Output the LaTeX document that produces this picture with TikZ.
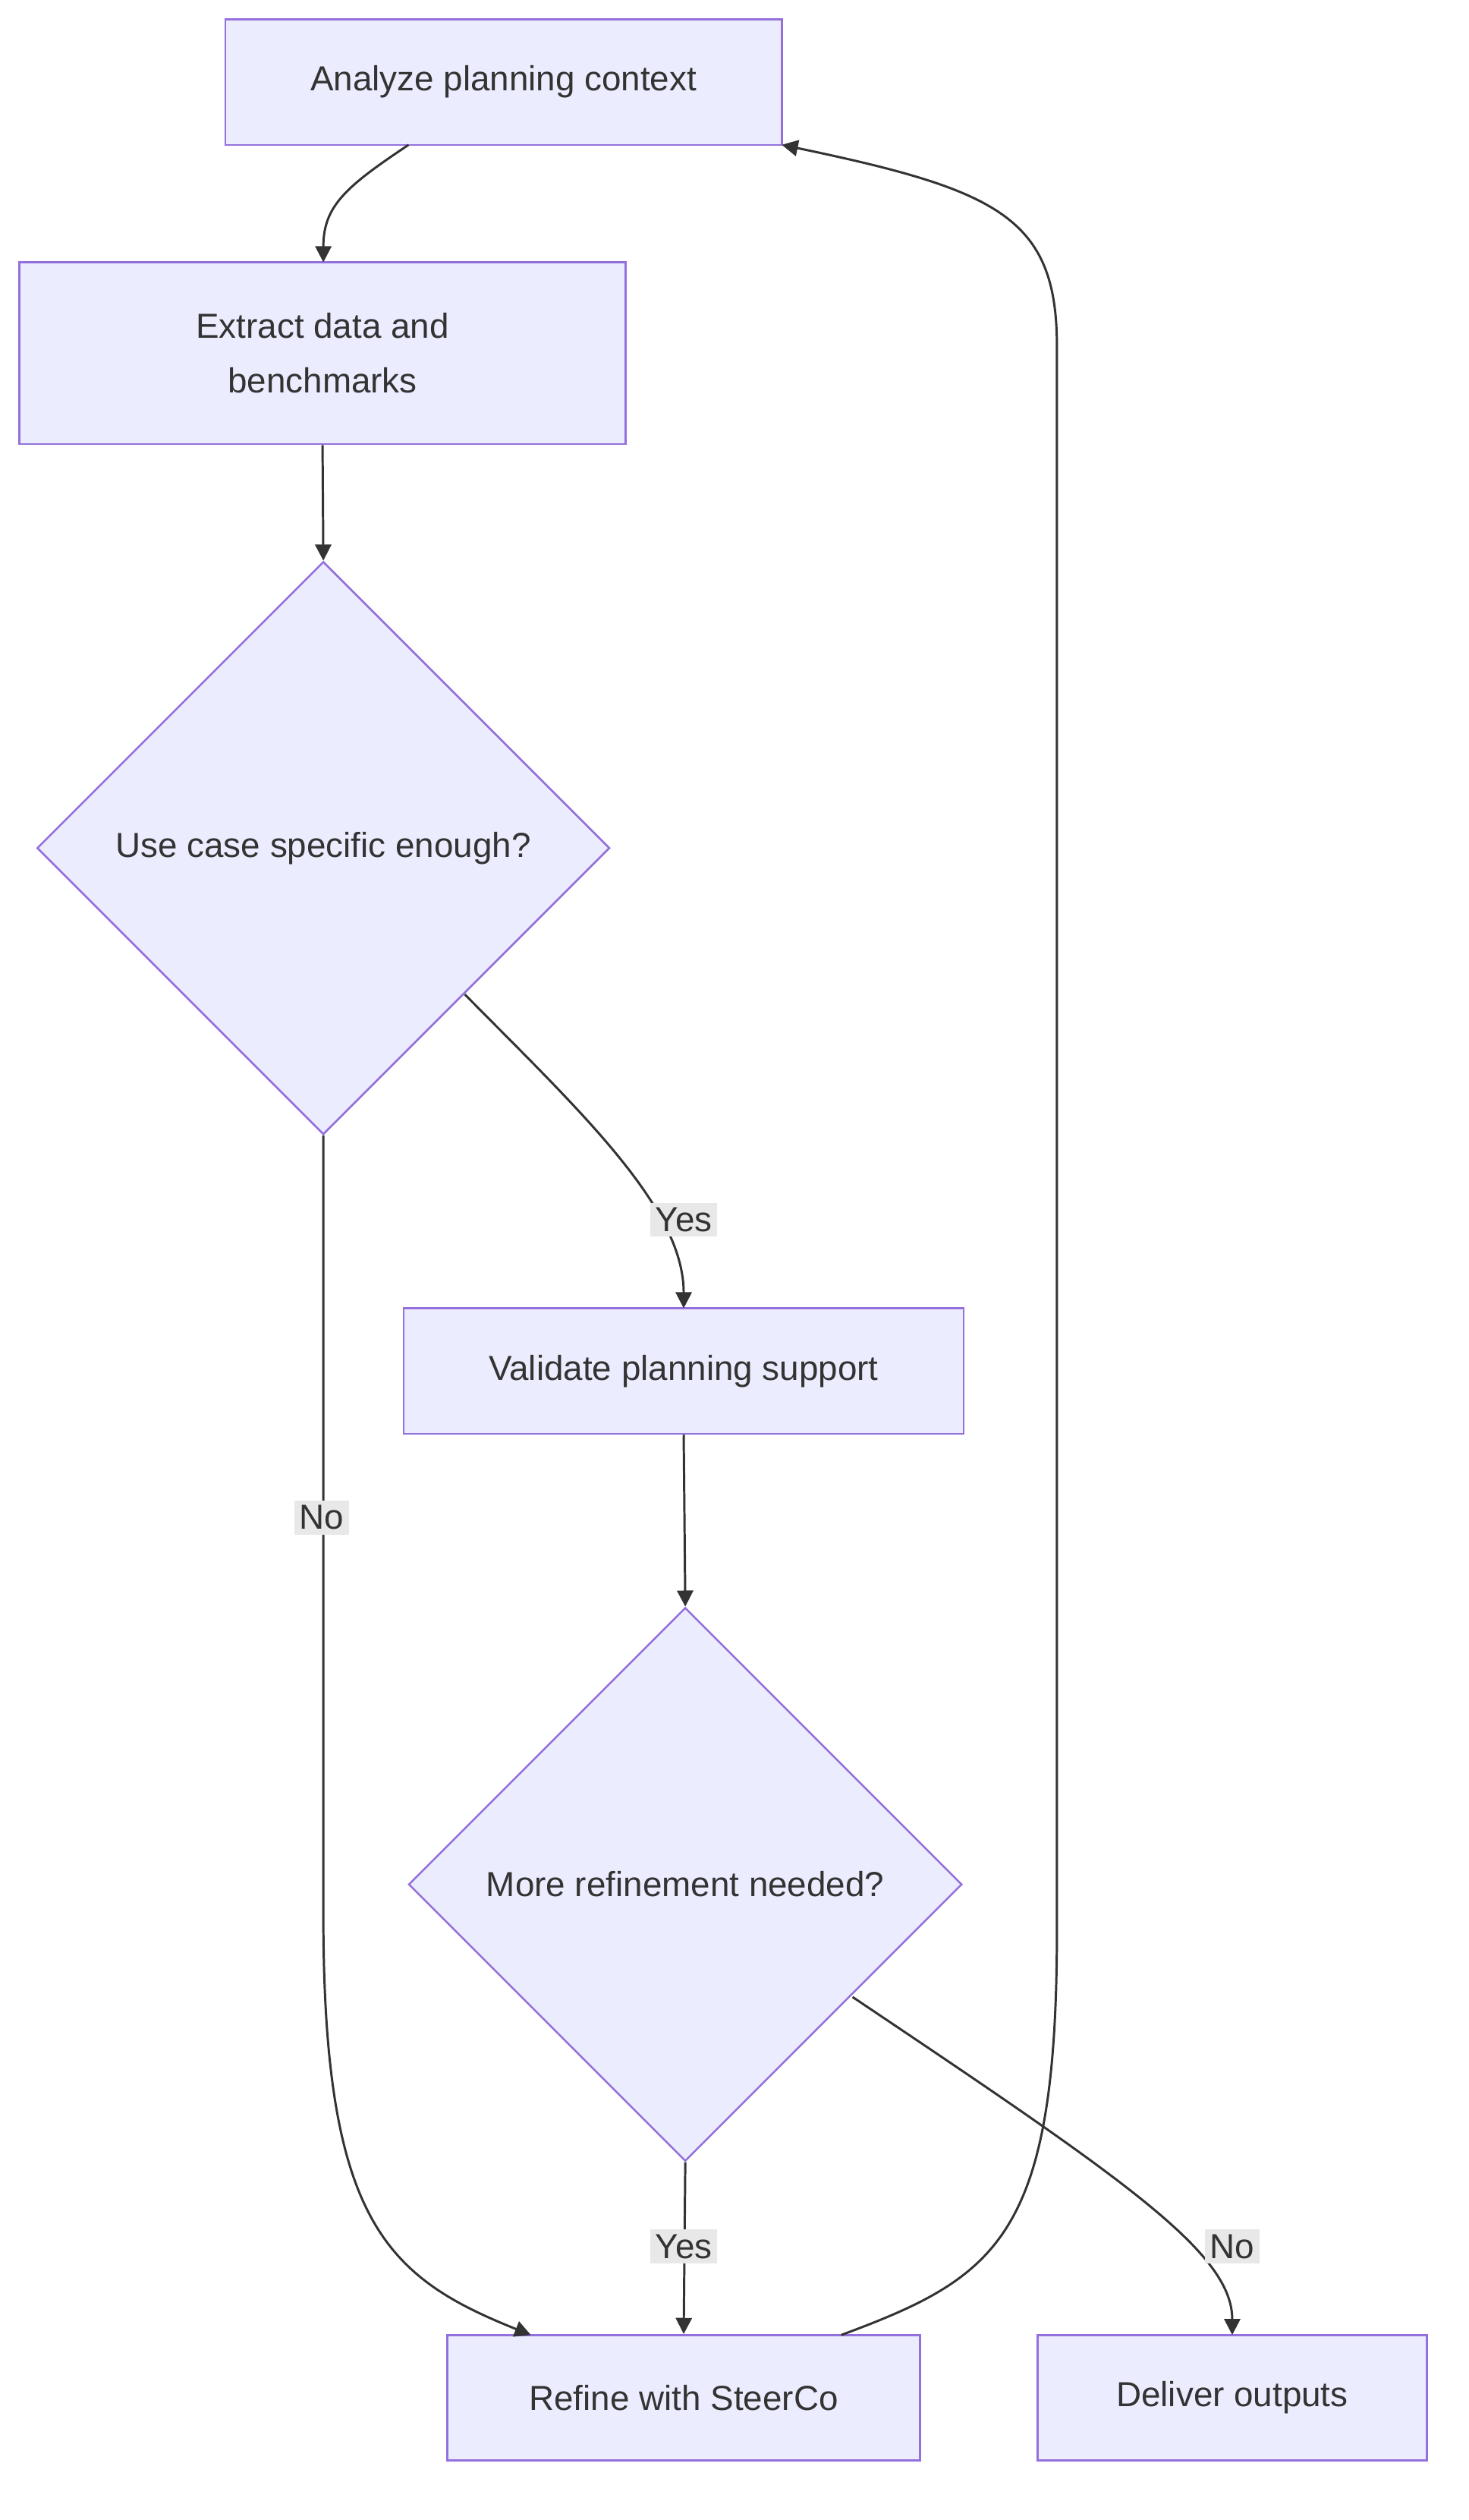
\documentclass[tikz,border=0pt]{standalone}
\usepackage{fontspec}
\setmainfont{Liberation Sans}
\usetikzlibrary{shapes.geometric,arrows.meta}
\definecolor{nfill}{HTML}{ECECFF}
\definecolor{nline}{HTML}{9370DB}
\definecolor{eline}{HTML}{333333}
\definecolor{lbg}{HTML}{E8E8E8}
\begin{document}
\begin{tikzpicture}[x=0.5pt,y=-0.5pt,
  box/.style={draw=nline,fill=nfill,line width=0.6pt,inner sep=0,align=center,font=\fontsize{10.8}{17}\selectfont,text=eline},
  dia/.style={box,diamond,aspect=1},
  conn/.style={draw=eline,line width=0.7pt,-{Triangle[length=5pt,width=5pt]}},
  lab/.style={fill=lbg,inner sep=1.5pt,font=\fontsize{10.8}{13}\selectfont,text=eline}]
\useasboundingbox (0,0) rectangle (913,1566);
\node[box,minimum width=173pt,minimum height=39pt] (A) at (313,51) {Analyze planning context};
\node[box,minimum width=188.5pt,minimum height=56.5pt] (B) at (200.5,219.5) {Extract data and\\benchmarks};
\node[dia,minimum width=178pt,minimum height=178pt] (C) at (201,527) {Use case specific enough?};
\node[box,minimum width=174pt,minimum height=39pt] (D) at (425,852) {Validate planning support};
\node[dia,minimum width=172pt,minimum height=172pt] (E) at (426,1171) {More refinement needed?};
\node[box,minimum width=147pt,minimum height=39pt] (F) at (425,1490) {Refine with SteerCo};
\node[box,minimum width=121pt,minimum height=39pt] (G) at (766,1490) {Deliver outputs};
\coordinate (a1) at (254,90);
\coordinate (b1) at (201,163);
\draw[conn] (a1) .. controls (215,116) and (201,128) .. (b1);
\draw[conn] (B.south) -- (C.north);
\coordinate (c1) at (289,618);
\coordinate (d1) at (425,813);
\draw[conn] (c1) .. controls (360,690) and (425,750) .. (d1);
\node[lab] (yl1) at (425,758) {Yes};
\coordinate (f1) at (330,1451);
\draw[conn] (C.south) -- (201,1190) .. controls (201,1380) and (240,1415) .. (f1);
\node[lab] (nol) at (200,943) {No};
\draw[conn] (D.south) -- (E.north);
\draw[conn] (E.south) -- (F.north);
\node[lab] (yl2) at (425,1396) {Yes};
\coordinate (e1) at (530,1241);
\coordinate (g1) at (766,1451);
\draw[conn] (e1) .. controls (700,1355) and (766,1400) .. (g1);
\node[lab] (nl2) at (766,1396) {No};
\coordinate (f2) at (523,1451);
\coordinate (a2) at (486,90);
\draw[conn] (f2) .. controls (620,1415) and (657,1390) .. (657,1200) -- (657,215) .. controls (657,135) and (620,118) .. (a2);
\end{tikzpicture}
\end{document}
